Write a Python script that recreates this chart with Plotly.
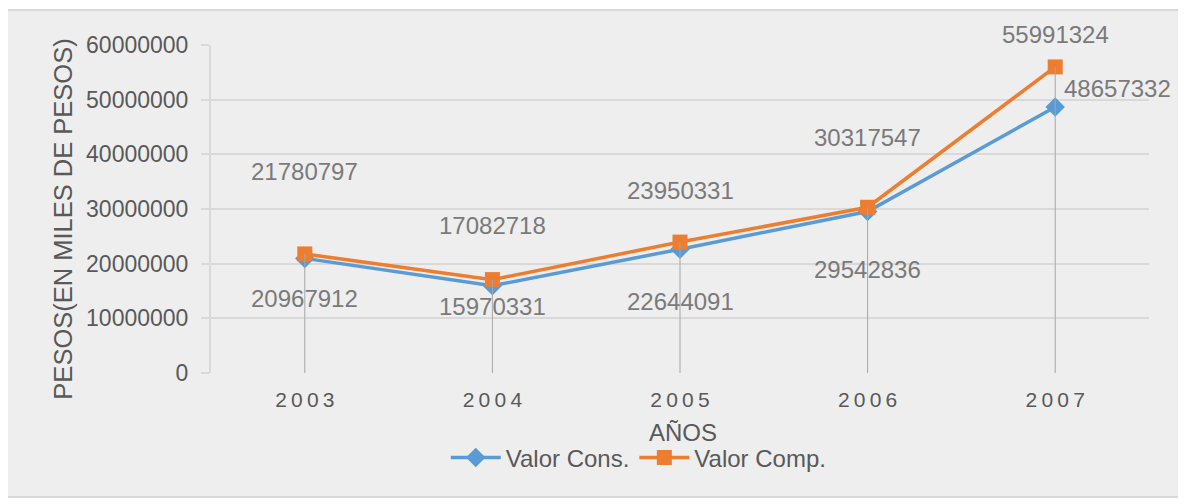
import plotly.graph_objects as go

years = ["2003", "2004", "2005", "2006", "2007"]
valor_cons = [20967912, 15970331, 22644091, 29542836, 48657332]
valor_comp = [21780797, 17082718, 23950331, 30317547, 55991324]
y_ticks = [0, 10000000, 20000000, 30000000, 40000000, 50000000, 60000000]

# label offsets in pixels (style)
comp_shift = [(0, 82), (0, 54), (0, 52), (0, 70), (0, 32)]
cons_shift = [(0, -40), (0, -21), (0, -52), (0, -58), (62, 19)]

FONT = "Liberation Sans, Arial, sans-serif"
BLUE = "#5B9BD5"
ORANGE = "#ED7D31"

xpos = list(range(len(years)))

fig = go.Figure()

fig.add_trace(go.Scatter(
    x=xpos, y=valor_cons, name="Valor Cons.", mode="lines+markers",
    line=dict(color=BLUE, width=3.5),
    marker=dict(symbol="diamond", size=15, color=BLUE),
))
fig.add_trace(go.Scatter(
    x=xpos, y=valor_comp, name="Valor Comp.", mode="lines+markers",
    line=dict(color=ORANGE, width=3.5),
    marker=dict(symbol="square", size=15, color=ORANGE),
))

# drop lines from highest point down to zero
dx, dy = [], []
for xi, a, b in zip(xpos, valor_cons, valor_comp):
    dx += [xi, xi, None]
    dy += [max(a, b), 0, None]
fig.add_trace(go.Scatter(
    x=dx, y=dy, mode="lines", line=dict(color="#a6a6a6", width=1),
    showlegend=False, hoverinfo="skip",
))

annotations = []
for xi, v, (sx, sy) in zip(xpos, valor_comp, comp_shift):
    annotations.append(dict(x=xi, y=v, xref="x", yref="y", text=str(v),
                            showarrow=False, xshift=sx, yshift=sy,
                            font=dict(family=FONT, size=24, color="#7a7a7a")))
for xi, v, (sx, sy) in zip(xpos, valor_cons, cons_shift):
    annotations.append(dict(x=xi, y=v, xref="x", yref="y", text=str(v),
                            showarrow=False, xshift=sx, yshift=sy,
                            font=dict(family=FONT, size=24, color="#7a7a7a")))

annotations.append(dict(x=0.503, y=-0.18, xref="paper", yref="paper", text="AÑOS",
                        showarrow=False, xanchor="center", yanchor="middle",
                        font=dict(family=FONT, size=24, color="#595959")))
annotations.append(dict(x=-0.158, y=0.47, xref="paper", yref="paper",
                        text="PESOS(EN MILES DE PESOS)", textangle=-90,
                        showarrow=False, xanchor="center", yanchor="middle",
                        font=dict(family=FONT, size=25.5, color="#595959")))

fig.update_layout(
    width=1178, height=496,
    margin=dict(l=203, r=37, t=37, b=131),
    paper_bgcolor="white",
    plot_bgcolor="rgba(0,0,0,0)",
    font=dict(family=FONT, color="#595959"),
    showlegend=True,
    legend=dict(orientation="h", x=0.456, y=-0.259, xanchor="center", yanchor="middle",
                font=dict(family=FONT, size=24, color="#595959"),
                bgcolor="rgba(0,0,0,0)", itemwidth=50),
    annotations=annotations,
    shapes=[dict(type="rect", xref="paper", yref="paper",
                 x0=-0.2175, x1=1.0362, y0=-0.378, y1=1.1067,
                 fillcolor="#eeeeee", line=dict(color="#d9d9d9", width=2),
                 layer="below")],
)

fig.update_xaxes(
    range=[-0.5, len(years) - 0.5], tickvals=xpos,
    ticktext=["\u2009".join(list(y)) for y in years],
    tickfont=dict(family=FONT, size=21, color="#595959"),
    showgrid=False, zeroline=False, showline=False,
    ticks="", ticklabelstandoff=12, tickangle=0,
)
fig.update_yaxes(
    range=[0, 60000000], tickvals=y_ticks, ticktext=[str(t) for t in y_ticks],
    tickfont=dict(family=FONT, size=23, color="#595959"),
    showgrid=True, gridcolor="#d9d9d9", gridwidth=1.5,
    zeroline=False, showline=True, linecolor="#d9d9d9", linewidth=2,
    ticks="outside", ticklen=8, tickcolor="#d9d9d9", tickwidth=1.5,
    ticklabelstandoff=8,
)

fig.write_html("out.html")
